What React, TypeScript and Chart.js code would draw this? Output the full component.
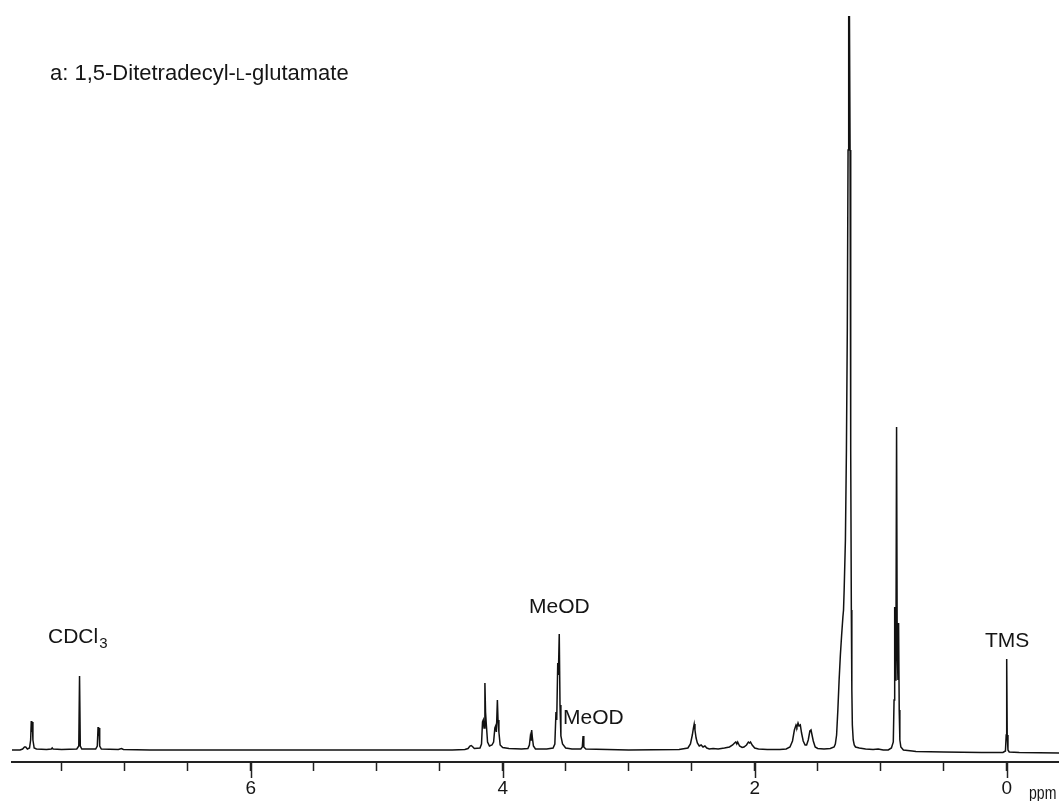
import React, { useEffect, useRef } from "react";
import { Chart, registerables } from "chart.js";

Chart.register(...registerables);

// Chemical shift (ppm) of each traced point, high to low
const SPECTRUM_PPM: number[] = [
  7.9, 7.83, 7.81, 7.795, 7.785, 7.772, 7.755, 7.746, 7.741, 7.737, 7.733, 7.728, 7.718, 7.7,
  7.62, 7.582, 7.575, 7.568, 7.5, 7.38, 7.364, 7.358, 7.352, 7.34,
  7.23, 7.217, 7.211, 7.207, 7.203, 7.198, 7.185, 7.05, 7.025, 7.01, 6.8, 6.0, 5.0,
  4.4, 4.3, 4.275, 4.26, 4.25, 4.24, 4.225, 4.18, 4.168, 4.16, 4.154, 4.148, 4.141, 4.136, 4.13, 4.12, 4.105,
  4.085, 4.072, 4.062, 4.056, 4.05, 4.042, 4.037, 4.03, 4.02, 4.0, 3.95, 3.85,
  3.8, 3.788, 3.78, 3.774, 3.77, 3.764, 3.756, 3.74, 3.65,
  3.6, 3.586, 3.577, 3.571, 3.563, 3.558, 3.551, 3.545, 3.538, 3.525, 3.5, 3.45,
  3.38, 3.368, 3.362, 3.356, 3.34, 3.0, 2.6,
  2.53, 2.51, 2.495, 2.486, 2.48, 2.474, 2.465, 2.455, 2.44, 2.425, 2.41, 2.395, 2.38, 2.36, 2.33, 2.29,
  2.24, 2.2, 2.175, 2.16, 2.15, 2.142, 2.135, 2.12, 2.1, 2.085, 2.065, 2.05, 2.04, 2.033, 2.02, 2.0, 1.97, 1.9, 1.8,
  1.75, 1.72, 1.7, 1.685, 1.672, 1.665, 1.656, 1.648, 1.638, 1.628, 1.615, 1.6, 1.588, 1.575, 1.562, 1.553, 1.545, 1.535, 1.52, 1.5, 1.45,
  1.4, 1.37, 1.36, 1.35, 1.34, 1.33, 1.32, 1.31, 1.3, 1.295, 1.29, 1.28, 1.272, 1.265, 1.259, 1.254, 1.248, 1.243, 1.238, 1.233, 1.229, 1.225, 1.218, 1.21, 1.2, 1.17, 1.12, 1.06, 1.02, 0.98,
  0.94, 0.915, 0.9, 0.894, 0.889, 0.885, 0.879, 0.874, 0.869, 0.863, 0.858, 0.853, 0.848, 0.84, 0.82, 0.75, 0.72, 0.5, 0.2,
  0.03, 0.01, 0.004, 0.0, -0.004, -0.01, -0.02, -0.1, -0.42,
];

// Signal intensity of each traced point (arbitrary units)
const SPECTRUM_INT: number[] = [
  0, 0, 1, 3, 3, 1, 2, 10, 29, 18, 28, 10, 2, 1,
  0.5, 1, 2, 1, 0.5, 1, 4, 74, 4, 1,
  1, 4, 23, 14, 22, 4, 1, 0.5, 1.5, 0.5, 0, 0, 0,
  0, 0.5, 1.5, 4, 4.5, 3.5, 1.5, 2, 6, 28, 30, 22, 67, 38, 26, 8, 4,
  5, 8, 22, 24, 18, 50, 30, 18, 5, 2.5, 1.5, 1,
  1.5, 5, 14, 10, 20, 12, 4, 1, 1,
  2, 6, 38, 30, 87, 75, 116, 45, 14, 6, 2, 1,
  1, 3, 14, 3, 1, 0, 0.5,
  2, 6, 15, 22, 26, 20, 12, 7, 4, 5, 3, 4, 2, 1, 1.5, 1,
  2, 3, 5, 7, 8, 6, 8, 4, 2.5, 3, 5, 8, 7, 8, 5, 2, 1, 0.5, 0.5,
  1, 3, 9, 20, 25, 23, 27, 24, 25, 17, 9, 5, 5, 10, 19, 20, 15, 9, 3, 1.5, 1,
  1.5, 3, 6, 15, 40, 70, 95, 115, 133, 140, 160, 210, 300, 420, 600, 734, 734, 600, 300, 140, 60, 25, 10, 5, 3, 2, 1, 0.5, 1, 0,
  0, 2, 8, 50, 143, 70, 100, 323, 100, 70, 127, 40, 10, 3, 0, -1, -1.5, -2, -2.5,
  -2.5, -1, 15, 91, 15, 0, -2, -2.5, -3,
];

// Axis
const X_MIN = -0.415;
const X_MAX = 7.894;
const Y_MIN = -12;
const Y_MAX = 734;
const TICK_VALUES: number[] = [7.5, 7, 6.5, 6, 5.5, 5, 4.5, 4, 3.5, 3, 2.5, 2, 1.5, 1, 0.5, 0];
const LABELED_TICKS: number[] = [6, 4, 2, 0];

const TITLE_PARTS: string[] = ["a: 1,5-Ditetradecyl-", "L", "-glutamate"];
const UNIT_LABEL = "ppm";

const SANS = '"Liberation Sans", Arial, Helvetica, sans-serif';
const INK = "#151515";

const textPlugin = {
  id: "nmrText",
  afterDraw(chart: any) {
    const ctx = chart.ctx as CanvasRenderingContext2D;
    const xs = chart.scales.x;
    const bottom = chart.chartArea.bottom;
    ctx.save();
    // longer ticks at labelled positions
    ctx.strokeStyle = "#222";
    ctx.lineWidth = 1.5;
    LABELED_TICKS.forEach((v) => {
      const px = Math.round(xs.getPixelForValue(v)) + 0.5;
      ctx.beginPath();
      ctx.moveTo(px, bottom);
      ctx.lineTo(px, bottom + 16);
      ctx.stroke();
    });

    ctx.fillStyle = INK;
    ctx.textBaseline = "alphabetic";
    ctx.textAlign = "left";

    // title with small-caps L
    let x = 50;
    const ty = 80;
    ctx.font = `22px ${SANS}`;
    ctx.fillText(TITLE_PARTS[0], x, ty);
    x += ctx.measureText(TITLE_PARTS[0]).width;
    ctx.font = `16px ${SANS}`;
    ctx.fillText(TITLE_PARTS[1], x, ty);
    x += ctx.measureText(TITLE_PARTS[1]).width;
    ctx.font = `22px ${SANS}`;
    ctx.fillText(TITLE_PARTS[2], x, ty);

    // CDCl3
    ctx.font = `21px ${SANS}`;
    ctx.fillText("CDCl", 48, 643);
    const w = ctx.measureText("CDCl").width;
    ctx.font = `15px ${SANS}`;
    ctx.fillText("3", 48 + w + 1, 648);

    ctx.font = `21px ${SANS}`;
    ctx.fillText("MeOD", 529, 613);
    ctx.fillText("MeOD", 563, 724);
    ctx.fillText("TMS", 985, 647);

    // condensed unit label
    ctx.save();
    ctx.translate(1029, 799);
    ctx.scale(0.74, 1);
    ctx.font = `19px ${SANS}`;
    ctx.fillText(UNIT_LABEL, 0, 0);
    ctx.restore();
    ctx.restore();
  },
};

export default function App() {
  const ref = useRef<HTMLCanvasElement | null>(null);
  useEffect(() => {
    if (!ref.current) return;
    const data = SPECTRUM_PPM.map((x, i) => ({ x, y: SPECTRUM_INT[i] }));
    const chart = new Chart(ref.current, {
      type: "line",
      data: {
        datasets: [
          {
            data,
            borderColor: "#111",
            borderWidth: 1.5,
            pointRadius: 0,
            tension: 0,
            fill: false,
          },
        ],
      },
      options: {
        animation: false,
        responsive: true,
        maintainAspectRatio: false,
        parsing: false as any,
        layout: { padding: { top: 16, left: 12, right: 0, bottom: 0 } },
        plugins: { legend: { display: false }, tooltip: { enabled: false } },
        scales: {
          x: {
            type: "linear",
            reverse: true,
            min: X_MIN,
            max: X_MAX,
            afterBuildTicks: (scale: any) => {
              scale.ticks = TICK_VALUES.map((v) => ({ value: v }));
            },
            afterFit: (scale: any) => {
              scale.height = 39;
            },
            grid: {
              display: true,
              drawOnChartArea: false,
              drawTicks: true,
              tickLength: 9,
              tickColor: "#222",
              tickWidth: 1.5,
            },
            border: { display: true, color: "#222", width: 2 },
            ticks: {
              autoSkip: false,
              maxRotation: 0,
              padding: 6,
              color: INK,
              font: { family: SANS, size: 19 },
              callback: (value: any) => (LABELED_TICKS.includes(Number(value)) ? String(value) : ""),
            },
          },
          y: { display: false, min: Y_MIN, max: Y_MAX },
        },
      },
      plugins: [textPlugin],
    });
    return () => chart.destroy();
  }, []);

  return (
    <div style={{ position: "absolute", left: 0, top: 0, width: 1059, height: 801, background: "#fff" }}>
      <canvas ref={ref} />
    </div>
  );
}
